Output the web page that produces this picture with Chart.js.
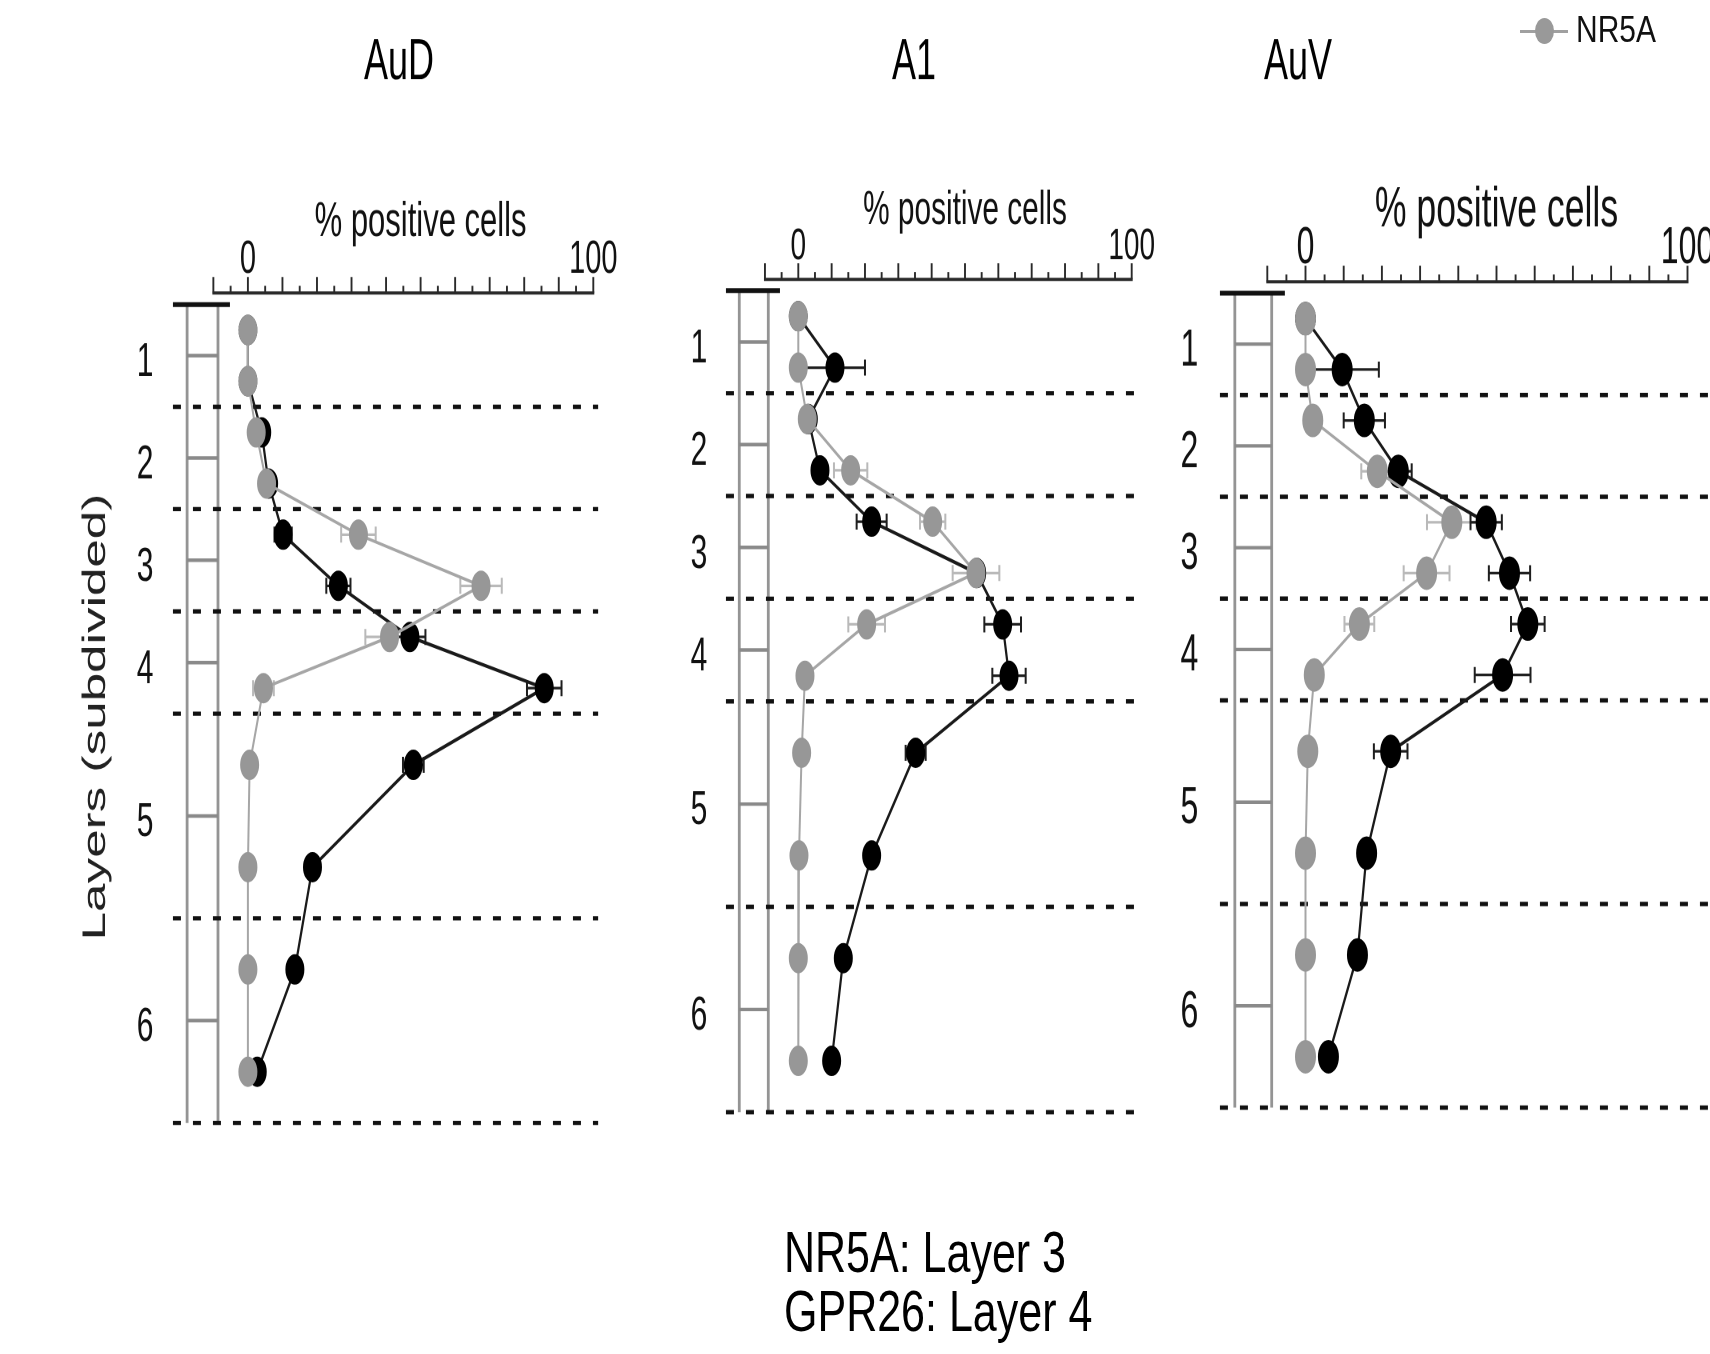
<!DOCTYPE html>
<html>
<head>
<meta charset="utf-8">
<title>Layer distribution NR5A / GPR26</title>
<script src="https://cdn.jsdelivr.net/npm/chart.js"></script>
<style>
  html, body { margin: 0; padding: 0; background: #ffffff; overflow: hidden; }
  body { width: 1710px; height: 1354px; position: relative; }
  .panel { position: absolute; top: 0; transform-origin: 0 0; transform: scaleY(1.6); }
  .panel canvas { display: block; }
  .lg-line { position: absolute; left: 1520px; top: 29.5px; width: 48px; height: 3px; background: #a0a0a0; }
  .lg-dot { position: absolute; left: 1535px; top: 18px; width: 19px; height: 26px; border-radius: 50%; background: #999999; }
  .lg-text { position: absolute; left: 1576px; top: 12px; font: 30px/30px 'Liberation Sans', Arial, sans-serif; color: #111;
             white-space: nowrap; transform: scaleY(1.2); transform-origin: 0 0; }
  #summary { position: absolute; left: 784px; top: 1223px; transform: scaleY(1.35); transform-origin: 0 0;
             font: 43px/43.5px 'Liberation Sans', Arial, sans-serif; color: #000; white-space: nowrap; }
</style>
</head>
<body>
<div class="panel" style="left:0px;width:798px;height:847px"><canvas id="c1" width="798" height="847"></canvas></div>
<div class="panel" style="left:640px;width:548px;height:847px"><canvas id="c2" width="548" height="847"></canvas></div>
<div class="panel" style="left:876px;width:844px;height:847px"><canvas id="c3" width="844" height="847"></canvas></div>
<div class="lg-line"></div><div class="lg-dot"></div><div class="lg-text" id="lgText"></div>
<div id="summary"></div>

<script>
// ---------------- DATA ----------------
const regions = ['AuD', 'A1', 'AuV'];
const seriesNames = ['NR5A', 'GPR26'];
const xTitle = '% positive cells';
const yTitle = 'Layers (subdivided)';

// depth of each sub-layer row (layer units; layers 5 and 6 are twice as thick)
const depthRows = [0.25, 0.75, 1.25, 1.75, 2.25, 2.75, 3.25, 3.75, 4.5, 5.5, 6.5, 7.5];
const layerBounds = [0, 1, 2, 3, 4, 6, 8];
const layerMid = [0.5, 1.5, 2.5, 3.5, 5, 7];
const layerLabels = ['1', '2', '3', '4', '5', '6'];
const xTicks = [-10, -5, 0, 5, 10, 15, 20, 25, 30, 35, 40, 45, 50, 55, 60, 65, 70, 75, 80, 85, 90, 95, 100];
const xLabelValues = [0, 100];

const aud_NR5A      = [0, 0, 2.4, 5.4, 32, 67.5, 41, 4.5, 0.5, 0, 0, 0];
const aud_NR5A_err  = [0, 0, 0, 1.5, 5, 6, 7, 3, 0, 0, 0, 0];
const aud_GPR26     = [0, 0, 4, 6, 10.2, 26.2, 46.9, 85.8, 47.9, 18.7, 13.6, 2.7];
const aud_GPR26_err = [0, 0, 0, 0, 2.5, 3.5, 4.5, 5, 3, 0, 0, 0];

const a1_NR5A       = [0, 0, 2.7, 15.7, 40.3, 53.3, 20.5, 2, 1, 0.2, 0, 0];
const a1_NR5A_err   = [0, 0, 0, 5, 3.8, 7, 5.5, 0, 0, 0, 0, 0];
const a1_GPR26      = [0, 11, 3, 6.5, 22, 53.5, 61.3, 63.2, 35.2, 22, 13.5, 10];
const a1_GPR26_err  = [0, 9, 0, 0, 4.5, 0, 5.5, 5, 3, 0, 0, 0];

const auv_NR5A      = [0, 0, 1.9, 18.8, 38.3, 31.7, 14.1, 2.3, 0.6, 0, 0, 0];
const auv_NR5A_err  = [0, 0, 0, 4.2, 6.5, 6, 3.9, 0, 0, 0, 0, 0];
const auv_GPR26     = [0, 9.6, 15.4, 24.3, 47.3, 53.4, 58.2, 51.6, 22.3, 16, 13.6, 6];
const auv_GPR26_err = [0, 9.6, 5.4, 3.5, 4.1, 5.4, 4.4, 7.3, 4.4, 0, 0, 0];

const summaryLines = ['NR5A: Layer 3', 'GPR26: Layer 4'];

// ---------------- LAYOUT (page pixels) ----------------
const S = 1.6;            // vertical stretch of the panels
const CANVAS_H = 847;
const FONT = "'Liberation Sans', Arial, Helvetica, sans-serif";

const panels = [
  { id: 'c1', region: regions[0], nr5a: aud_NR5A, nr5aErr: aud_NR5A_err, gpr: aud_GPR26, gprErr: aud_GPR26_err,
    left: 0, width: 798, x0: 247.9, x100: 593.3, axisY: 293, y0: 304.5, k: 102.3, yMax: 8.177,
    titleY: 63, titleSize: 36, xTitleY: 222, xTitleSize: 31, tickY: 260, tickSize: 29,
    labelRight: 153.4, labelSize: 30, yTitleX: 96, yTitleSize: 32,
    ladder: [-17.6, -8.66], bar: [-21.7, -5.2], dash: [-21.7, 101.4], r: 9 },
  { id: 'c2', region: regions[1], nr5a: a1_NR5A, nr5aErr: a1_NR5A_err, gpr: a1_GPR26, gprErr: a1_GPR26_err,
    left: 640, width: 548, x0: 798.3, x100: 1131.7, axisY: 279.3, y0: 290.6, k: 102.7, yMax: 8.15,
    titleY: 63, titleSize: 36, xTitleY: 211, xTitleSize: 29.8, tickY: 246.5, tickSize: 28,
    labelRight: 707.3, labelSize: 30, yTitleX: null, yTitleSize: 32,
    ladder: [-17.7, -9.0], bar: [-21.7, -5.5], dash: [-21.7, 100.7], r: 9 },
  { id: 'c3', region: regions[2], nr5a: auv_NR5A, nr5aErr: auv_NR5A_err, gpr: auv_GPR26, gprErr: auv_GPR26_err,
    left: 876, width: 844, x0: 1305.5, x100: 1687.5, axisY: 281.7, y0: 293.2, k: 101.8, yMax: 8.15,
    titleY: 63, titleSize: 36, xTitleY: 211, xTitleSize: 35.6, tickY: 249, tickSize: 32,
    labelRight: 1198.3, labelSize: 32, yTitleX: null, yTitleSize: 32,
    ladder: [-18.5, -8.85], bar: [-22.4, -5.4], dash: [-22.4, 115], r: 10 }
];

// ---------------- PLUGIN: ladder, layer lines, axis ticks, error bars ----------------
const decorPlugin = {
  id: 'decor',
  beforeDatasetsDraw(chart, args, opts) {
    const { ctx } = chart;
    const x = chart.scales.x, y = chart.scales.y;
    const yTop = y.getPixelForValue(layerBounds[0]);
    const yBot = y.getPixelForValue(layerBounds[layerBounds.length - 1]);
    ctx.save();
    // ladder (cortical column)
    const lx1 = x.getPixelForValue(opts.ladder[0]);
    const lx2 = x.getPixelForValue(opts.ladder[1]);
    ctx.strokeStyle = '#949494';
    ctx.lineWidth = 2.8;
    ctx.beginPath();
    ctx.moveTo(lx1, yTop); ctx.lineTo(lx1, yBot);
    ctx.moveTo(lx2, yTop); ctx.lineTo(lx2, yBot);
    ctx.stroke();
    ctx.strokeStyle = '#8a8a8a';
    ctx.lineWidth = 2.2;
    layerMid.forEach(v => {
      const py = y.getPixelForValue(v);
      ctx.beginPath(); ctx.moveTo(lx1, py); ctx.lineTo(lx2, py); ctx.stroke();
    });
    // pia bar
    ctx.strokeStyle = '#111';
    ctx.lineWidth = 3;
    ctx.beginPath();
    ctx.moveTo(x.getPixelForValue(opts.bar[0]), yTop);
    ctx.lineTo(x.getPixelForValue(opts.bar[1]), yTop);
    ctx.stroke();
    // dashed layer boundaries
    ctx.setLineDash([8, 12]);
    ctx.lineWidth = 2.7;
    ctx.strokeStyle = '#111';
    layerBounds.slice(1).forEach(v => {
      const py = y.getPixelForValue(v);
      ctx.beginPath();
      ctx.moveTo(x.getPixelForValue(opts.dash[0]), py);
      ctx.lineTo(x.getPixelForValue(opts.dash[1]), py);
      ctx.stroke();
    });
    ctx.setLineDash([]);
    // top axis line and tick marks
    const ay = chart.chartArea.top;
    ctx.strokeStyle = '#2a2a2a';
    ctx.lineWidth = 2;
    ctx.beginPath();
    ctx.moveTo(x.getPixelForValue(xTicks[0]) - 1, ay);
    ctx.lineTo(x.getPixelForValue(xTicks[xTicks.length - 1]) + 1, ay);
    ctx.stroke();
    ctx.lineWidth = 1.9;
    x.ticks.forEach(t => {
      const px = x.getPixelForValue(t.value);
      const len = (t.value % 10 === 0) ? opts.tickLong : opts.tickShort;
      ctx.beginPath(); ctx.moveTo(px, ay); ctx.lineTo(px, ay - len); ctx.stroke();
    });
    // error bars
    chart.data.datasets.forEach((ds, di) => {
      const meta = chart.getDatasetMeta(di);
      ctx.strokeStyle = ds.errorColor;
      meta.data.forEach((pt, i) => {
        const e = ds.errors[i];
        if (!e) return;
        const v = ds.data[i].x;
        const xl = x.getPixelForValue(v - e), xr = x.getPixelForValue(v + e);
        const py = pt.y;
        ctx.lineWidth = 1.6;
        ctx.beginPath(); ctx.moveTo(xl, py); ctx.lineTo(xr, py); ctx.stroke();
        ctx.lineWidth = 2;
        ctx.beginPath();
        ctx.moveTo(xl, py - opts.cap); ctx.lineTo(xl, py + opts.cap);
        ctx.moveTo(xr, py - opts.cap); ctx.lineTo(xr, py + opts.cap);
        ctx.stroke();
      });
    });
    ctx.restore();
  }
};

// ---------------- BUILD CHARTS ----------------
panels.forEach(p => {
  const titleLH = p.titleSize * 1.2;
  const titlePadTop = p.titleY / S - titleLH / 2;
  const titlePadBottom = 2;
  const titleBottom = titlePadTop + titleLH + titlePadBottom;
  const chartTop = p.axisY / S;
  const xAxisH = chartTop - titleBottom;
  const xTitleLH = p.xTitleSize * 1.2;
  const xTitlePadTop = p.xTitleY / S - titleBottom - xTitleLH / 2;
  const tickLH = p.tickSize * 1.2;
  const tickPad = chartTop - p.tickY / S - tickLH / 2;
  const yMin = (p.axisY - p.y0) / p.k;
  const chartBottom = (p.y0 + p.yMax * p.k) / S;
  const padBottom = CANVAS_H - chartBottom;
  const yAxisW = p.x0 - p.left;
  const rightW = p.left + p.width - p.x100;
  const yTickPad = p.x0 - p.labelRight;
  const yTitleLH = p.yTitleSize * 1.2;
  const yTitlePad = p.yTitleX ? (p.yTitleX - p.left - yTitleLH / 2) : 0;

  new Chart(document.getElementById(p.id), {
    type: 'scatter',
    data: {
      datasets: [
        {
          label: seriesNames[0],
          data: depthRows.map((d, i) => ({ x: p.nr5a[i], y: d })),
          errors: p.nr5aErr,
          errorColor: '#b9b9b9',
          showLine: true, tension: 0, clip: false,
          borderColor: '#a6a6a6', borderWidth: 2,
          backgroundColor: '#979797',
          pointBackgroundColor: '#979797', pointBorderColor: '#979797', pointBorderWidth: 1,
          pointRadius: p.r, pointHoverRadius: p.r,
          xAxisID: 'x', yAxisID: 'y'
        },
        {
          label: seriesNames[1],
          data: depthRows.map((d, i) => ({ x: p.gpr[i], y: d })),
          errors: p.gprErr,
          errorColor: '#1e1e1e',
          showLine: true, tension: 0, clip: false,
          borderColor: '#1a1a1a', borderWidth: 2.2,
          backgroundColor: '#000000',
          pointBackgroundColor: '#000000', pointBorderColor: '#000000', pointBorderWidth: 1,
          pointRadius: p.r, pointHoverRadius: p.r,
          xAxisID: 'x', yAxisID: 'y'
        }
      ]
    },
    options: {
      responsive: false,
      animation: false,
      devicePixelRatio: 2,
      events: [],
      layout: { padding: { left: 0, right: 0, top: 0, bottom: padBottom } },
      plugins: {
        legend: { display: false },
        tooltip: { enabled: false },
        title: {
          display: true, text: p.region, color: '#000',
          font: { family: FONT, size: p.titleSize, weight: 'normal', lineHeight: 1.2 },
          padding: { top: titlePadTop, bottom: titlePadBottom }
        },
        decor: { ladder: p.ladder, bar: p.bar, dash: p.dash, tickLong: 10, tickShort: 4.5, cap: 5 }
      },
      scales: {
        x: {
          type: 'linear', position: 'top', min: 0, max: 100,
          grid: { display: false, drawTicks: false },
          border: { display: false },
          ticks: {
            stepSize: 5, autoSkip: false, maxRotation: 0, minRotation: 0,
            padding: tickPad, color: '#111',
            font: { family: FONT, size: p.tickSize, lineHeight: 1.2 },
            callback: (v) => xLabelValues.includes(v) ? String(v) : ''
          },
          title: {
            display: true, text: xTitle, color: '#111',
            font: { family: FONT, size: p.xTitleSize, lineHeight: 1.2 },
            padding: { top: xTitlePadTop, bottom: 0 }
          },
          afterBuildTicks: (s) => { s.ticks = xTicks.map(v => ({ value: v })); },
          afterFit: (s) => { s.height = xAxisH; }
        },
        y: {
          type: 'linear', position: 'left', reverse: true, min: yMin, max: p.yMax, bounds: 'data',
          grid: { display: false, drawTicks: false },
          border: { display: false },
          ticks: {
            autoSkip: false, padding: yTickPad, color: '#111', labelOffset: 4.4,
            font: { family: FONT, size: p.labelSize, lineHeight: 1.2 },
            callback: (v, i) => layerLabels[i] ?? ''
          },
          title: {
            display: !!p.yTitleX, text: yTitle, color: '#222',
            font: { family: FONT, size: p.yTitleSize, lineHeight: 1.2 },
            padding: { top: yTitlePad, bottom: 0 }
          },
          afterBuildTicks: (s) => { s.ticks = layerMid.map(v => ({ value: v })); },
          afterFit: (s) => { s.width = yAxisW; }
        },
        yR: {
          type: 'linear', position: 'right', display: true,
          grid: { display: false, drawTicks: false },
          border: { display: false },
          ticks: { display: false },
          afterFit: (s) => { s.width = rightW; }
        }
      }
    },
    plugins: [decorPlugin]
  });
});

// legend + summary text
document.getElementById('lgText').textContent = seriesNames[0];
document.getElementById('summary').innerHTML = summaryLines.map(t => '<div>' + t + '</div>').join('');
</script>
</body>
</html>
